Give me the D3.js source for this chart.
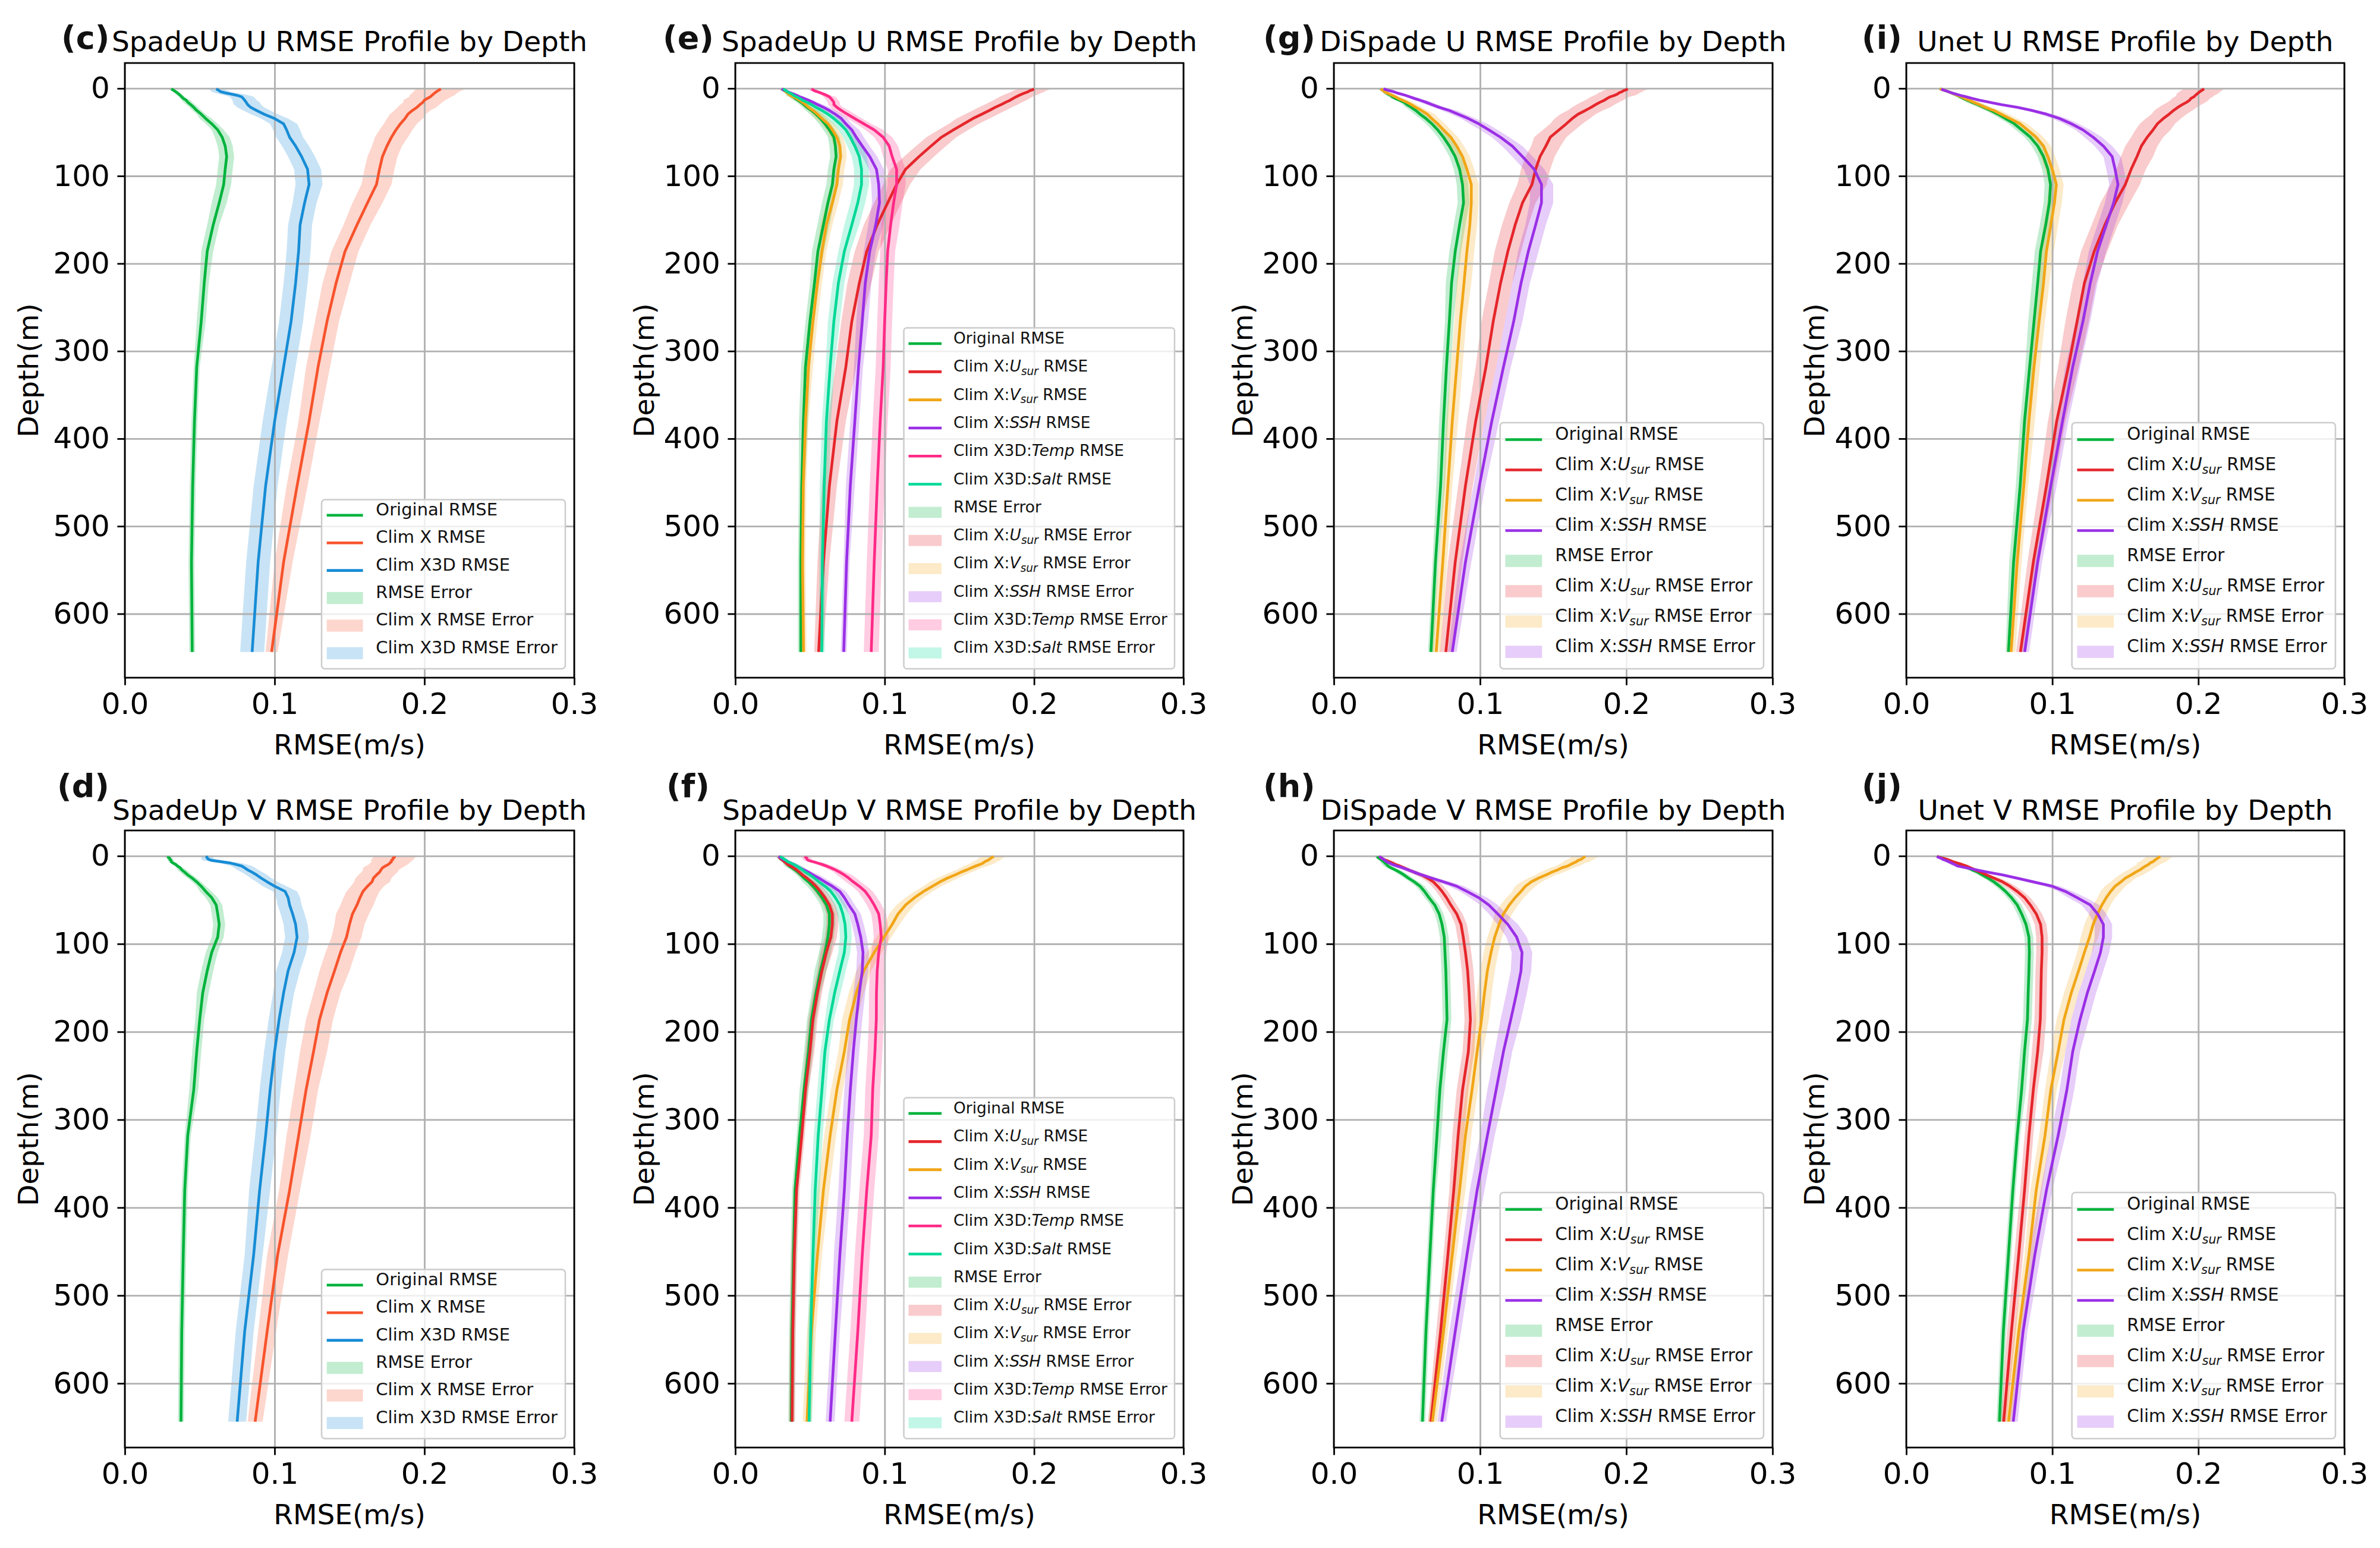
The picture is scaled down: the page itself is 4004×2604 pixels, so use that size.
<!DOCTYPE html>
<html>
<head>
<meta charset="utf-8">
<script src="https://cdn.jsdelivr.net/npm/d3@7"></script>
<style>
  html, body { margin: 0; padding: 0; background: #fff; }
  svg { display: block; }
  text { font-family: "DejaVu Sans", sans-serif; white-space: pre; }
</style>
</head>
<body>
<svg id="chart" width="4004" height="2604"></svg>
<script>
// ── DATA ─────────────────────────────────────────────────────
// model depth levels (m)
const depth = [
  0.494, 1.541, 2.646, 3.819, 5.078, 6.441, 7.930, 9.573, 11.405, 13.467, 15.810,
  18.496, 21.599, 25.211, 29.445, 34.434, 40.344, 47.374, 55.764, 65.807, 77.854, 92.326,
  109.729, 130.666, 155.851, 186.126, 222.475, 266.040, 318.127, 380.213, 453.938, 541.089, 643.567
]
const xLimits = [0, 0.3]
const yLimits = [-29, 673]
const xTicks = [0, 0.1, 0.2, 0.3]
const yTicks = [0, 100, 200, 300, 400, 500, 600]

// (c) SpadeUp U
const cOrig = [0.031,0.032,0.033,0.034,0.035,0.036,0.037,0.038,0.039,0.041,0.042, 0.044,0.046,0.048,0.051,0.054,0.058,0.062,0.065,0.067,0.068,0.067, 0.066,0.063,0.059,0.055,0.053,0.051,0.048,0.0465,0.0453,0.0445,0.045]
const cClimX = [0.211,0.210,0.209,0.208,0.207,0.206,0.205,0.204,0.202,0.200,0.199, 0.197,0.195,0.192,0.189,0.187,0.184,0.181,0.178,0.175,0.172,0.170, 0.168,0.162,0.155,0.147,0.141,0.135,0.129,0.123,0.115,0.106,0.098]
const cClimX3D = [0.061,0.062,0.063,0.064,0.067,0.071,0.075,0.078,0.079,0.080,0.081, 0.082,0.084,0.088,0.093,0.100,0.106,0.108,0.110,0.114,0.118,0.122, 0.123,0.120,0.117,0.116,0.114,0.111,0.106,0.100,0.094,0.089,0.085]
const cOrigErr = [0.002,0.002,0.002,0.002,0.002,0.002,0.002,0.002,0.002,0.003,0.003, 0.003,0.003,0.003,0.003,0.004,0.004,0.004,0.005,0.005,0.005,0.005, 0.005,0.005,0.004,0.004,0.003,0.003,0.002,0.002,0.002,0.002,0.002]
const cClimXErr = [0.016,0.016,0.016,0.015,0.015,0.015,0.015,0.014,0.014,0.014,0.013, 0.013,0.013,0.012,0.012,0.012,0.011,0.011,0.011,0.010,0.010,0.010, 0.010,0.010,0.009,0.009,0.009,0.008,0.008,0.007,0.007,0.006,0.004]
const cClimX3DErr = [0.005,0.005,0.006,0.006,0.007,0.008,0.008,0.008,0.008,0.008,0.009, 0.009,0.009,0.009,0.009,0.009,0.009,0.009,0.009,0.009,0.009,0.009, 0.009,0.008,0.008,0.008,0.008,0.008,0.008,0.008,0.008,0.008,0.008]

// (d) SpadeUp V
const dOrig = [0.029,0.029,0.030,0.030,0.031,0.031,0.032,0.034,0.035,0.037,0.038, 0.040,0.042,0.045,0.048,0.051,0.054,0.058,0.061,0.062,0.063,0.062, 0.058,0.055,0.052,0.050,0.048,0.046,0.042,0.040,0.039,0.038,0.0375]
const dClimX = [0.180,0.180,0.179,0.179,0.178,0.178,0.177,0.176,0.174,0.172,0.171, 0.170,0.168,0.166,0.165,0.162,0.159,0.157,0.155,0.152,0.150,0.148, 0.144,0.140,0.135,0.130,0.126,0.121,0.116,0.110,0.102,0.095,0.087]
const dClimX3D = [0.054,0.055,0.055,0.056,0.058,0.064,0.070,0.074,0.078,0.080,0.082, 0.085,0.088,0.091,0.095,0.100,0.107,0.109,0.110,0.112,0.114,0.115, 0.113,0.109,0.106,0.103,0.100,0.097,0.094,0.090,0.086,0.080,0.075]
const dOrigErr = [0.002,0.002,0.002,0.002,0.002,0.002,0.002,0.002,0.002,0.002,0.003, 0.003,0.003,0.003,0.003,0.003,0.004,0.004,0.004,0.004,0.004,0.004, 0.004,0.004,0.004,0.003,0.003,0.003,0.002,0.002,0.002,0.002,0.002]
const dClimXErr = [0.014,0.014,0.014,0.014,0.014,0.013,0.013,0.013,0.013,0.013,0.012, 0.012,0.012,0.012,0.012,0.011,0.011,0.011,0.011,0.011,0.010,0.010, 0.010,0.010,0.009,0.009,0.009,0.008,0.008,0.007,0.007,0.006,0.005]
const dClimX3DErr = [0.004,0.004,0.004,0.005,0.006,0.006,0.007,0.007,0.007,0.007,0.007, 0.007,0.007,0.007,0.007,0.008,0.008,0.008,0.008,0.008,0.008,0.008, 0.008,0.008,0.007,0.007,0.007,0.007,0.007,0.007,0.006,0.006,0.006]

// (e) SpadeUp U, per input variable
const eOrig = [0.031,0.032,0.033,0.034,0.035,0.036,0.037,0.039,0.040,0.042,0.044, 0.046,0.048,0.051,0.054,0.057,0.060,0.063,0.066,0.067,0.0675,0.066, 0.065,0.062,0.059,0.0553,0.053,0.050,0.047,0.0456,0.0445,0.0439,0.0439]
const eU = [0.200,0.199,0.197,0.196,0.194,0.192,0.190,0.188,0.186,0.184,0.181, 0.178,0.174,0.170,0.165,0.159,0.153,0.146,0.138,0.131,0.123,0.114, 0.108,0.102,0.095,0.088,0.083,0.078,0.074,0.068,0.063,0.059,0.0558]
const eV = [0.031,0.032,0.033,0.034,0.035,0.036,0.037,0.039,0.041,0.043,0.045, 0.047,0.049,0.052,0.055,0.058,0.062,0.065,0.068,0.070,0.0705,0.069, 0.068,0.065,0.061,0.058,0.055,0.052,0.049,0.047,0.0455,0.045,0.0457]
const eSsh = [0.031,0.032,0.034,0.035,0.037,0.039,0.041,0.043,0.046,0.049,0.052, 0.055,0.059,0.063,0.067,0.071,0.074,0.078,0.081,0.085,0.090,0.0945, 0.096,0.0965,0.094,0.090,0.087,0.085,0.0825,0.080,0.077,0.0745,0.0726]
const eTemp = [0.051,0.052,0.053,0.055,0.057,0.059,0.061,0.063,0.064,0.065,0.066, 0.066,0.068,0.071,0.075,0.080,0.086,0.093,0.099,0.103,0.105,0.108, 0.108,0.106,0.104,0.102,0.101,0.100,0.099,0.097,0.095,0.093,0.091]
const eSalt = [0.032,0.033,0.034,0.035,0.036,0.038,0.039,0.041,0.043,0.045,0.048, 0.051,0.054,0.058,0.062,0.066,0.070,0.074,0.077,0.080,0.083,0.0845, 0.0845,0.082,0.078,0.073,0.069,0.066,0.0635,0.061,0.0595,0.0583,0.0579]
const eOrigErr = [0.002,0.002,0.002,0.002,0.002,0.002,0.003,0.003,0.003,0.003,0.003, 0.003,0.003,0.004,0.004,0.004,0.004,0.004,0.004,0.004,0.004,0.004, 0.004,0.004,0.004,0.004,0.003,0.003,0.003,0.003,0.002,0.002,0.002]
const eUErr = [0.011,0.011,0.011,0.011,0.011,0.011,0.011,0.011,0.011,0.011,0.011, 0.011,0.011,0.011,0.011,0.011,0.010,0.010,0.010,0.010,0.010,0.010, 0.009,0.009,0.009,0.008,0.008,0.007,0.007,0.006,0.005,0.004,0.003]
const eVErr = [0.002,0.002,0.002,0.002,0.002,0.002,0.003,0.003,0.003,0.003,0.003, 0.003,0.003,0.003,0.004,0.004,0.004,0.004,0.004,0.004,0.004,0.004, 0.004,0.004,0.004,0.003,0.003,0.003,0.003,0.002,0.002,0.002,0.002]
const eSshErr = [0.002,0.002,0.002,0.002,0.002,0.003,0.003,0.003,0.003,0.003,0.003, 0.004,0.004,0.004,0.004,0.004,0.004,0.005,0.005,0.005,0.005,0.005, 0.005,0.005,0.005,0.004,0.004,0.004,0.003,0.003,0.003,0.002,0.002]
const eTempErr = [0.003,0.003,0.003,0.003,0.003,0.003,0.003,0.004,0.004,0.004,0.004, 0.004,0.004,0.005,0.005,0.005,0.005,0.006,0.006,0.006,0.006,0.006, 0.006,0.006,0.006,0.005,0.005,0.005,0.005,0.005,0.005,0.005,0.005]
const eSaltErr = [0.002,0.002,0.002,0.002,0.002,0.003,0.003,0.003,0.003,0.003,0.003, 0.004,0.004,0.004,0.004,0.005,0.005,0.005,0.005,0.005,0.005,0.005, 0.005,0.005,0.005,0.004,0.004,0.004,0.003,0.003,0.003,0.002,0.002]

// (f) SpadeUp V, per input variable
const fOrig = [0.029,0.030,0.030,0.031,0.032,0.033,0.034,0.035,0.036,0.038,0.040, 0.042,0.044,0.046,0.049,0.052,0.055,0.058,0.061,0.063,0.063,0.062, 0.060,0.057,0.054,0.051,0.049,0.046,0.043,0.040,0.039,0.038,0.0375]
const fU = [0.029,0.030,0.030,0.031,0.032,0.033,0.034,0.035,0.037,0.039,0.041, 0.043,0.045,0.048,0.051,0.054,0.057,0.060,0.063,0.065,0.065,0.064, 0.061,0.058,0.055,0.052,0.050,0.047,0.0445,0.041,0.0395,0.0385,0.038]
const fV = [0.173,0.172,0.171,0.170,0.169,0.167,0.166,0.164,0.161,0.158,0.155, 0.151,0.147,0.142,0.137,0.132,0.126,0.120,0.114,0.109,0.105,0.0995, 0.093,0.086,0.081,0.0765,0.073,0.068,0.0635,0.059,0.055,0.051,0.048]
const fSsh = [0.029,0.030,0.031,0.032,0.034,0.035,0.037,0.039,0.041,0.043,0.046, 0.049,0.052,0.056,0.060,0.065,0.070,0.073,0.076,0.080,0.082,0.084, 0.0855,0.085,0.083,0.081,0.079,0.077,0.075,0.073,0.070,0.067,0.0635]
const fTemp = [0.047,0.047,0.048,0.048,0.049,0.052,0.055,0.058,0.061,0.064,0.067, 0.070,0.073,0.076,0.079,0.083,0.087,0.090,0.093,0.096,0.097,0.0977, 0.096,0.095,0.0945,0.0944,0.0935,0.092,0.091,0.088,0.085,0.082,0.078]
const fSalt = [0.030,0.031,0.032,0.033,0.034,0.035,0.037,0.039,0.041,0.043,0.045, 0.047,0.050,0.053,0.056,0.060,0.064,0.067,0.070,0.072,0.0735,0.074, 0.073,0.070,0.0665,0.063,0.060,0.058,0.0555,0.0535,0.052,0.0505,0.0494]
const fOrigErr = [0.002,0.002,0.002,0.002,0.002,0.002,0.002,0.003,0.003,0.003,0.003, 0.003,0.003,0.003,0.004,0.004,0.004,0.004,0.004,0.004,0.004,0.004, 0.004,0.004,0.003,0.003,0.003,0.003,0.002,0.002,0.002,0.002,0.002]
const fUErr = [0.002,0.002,0.002,0.002,0.002,0.002,0.002,0.002,0.003,0.003,0.003, 0.003,0.003,0.003,0.003,0.004,0.004,0.004,0.004,0.004,0.004,0.004, 0.004,0.003,0.003,0.003,0.003,0.002,0.002,0.002,0.002,0.002,0.002]
const fVErr = [0.008,0.008,0.008,0.008,0.008,0.008,0.008,0.008,0.008,0.007,0.007, 0.007,0.007,0.007,0.007,0.006,0.006,0.006,0.006,0.006,0.005,0.005, 0.005,0.005,0.005,0.005,0.004,0.004,0.004,0.004,0.003,0.003,0.003]
const fSshErr = [0.002,0.002,0.002,0.002,0.002,0.003,0.003,0.003,0.003,0.003,0.003, 0.003,0.004,0.004,0.004,0.004,0.004,0.004,0.004,0.004,0.004,0.004, 0.004,0.004,0.004,0.004,0.004,0.004,0.004,0.004,0.004,0.003,0.003]
const fTempErr = [0.003,0.003,0.003,0.003,0.003,0.003,0.004,0.004,0.004,0.004,0.004, 0.004,0.005,0.005,0.005,0.005,0.005,0.005,0.005,0.005,0.005,0.005, 0.005,0.005,0.005,0.005,0.005,0.005,0.005,0.005,0.005,0.005,0.005]
const fSaltErr = [0.002,0.002,0.002,0.002,0.002,0.002,0.003,0.003,0.003,0.003,0.003, 0.003,0.003,0.004,0.004,0.004,0.004,0.004,0.004,0.004,0.004,0.004, 0.004,0.004,0.004,0.003,0.003,0.003,0.003,0.003,0.002,0.002,0.002]

// (g) DiSpade U
const gOrig = [0.032,0.033,0.034,0.035,0.036,0.037,0.039,0.040,0.042,0.045,0.048, 0.050,0.053,0.056,0.059,0.063,0.067,0.071,0.075,0.079,0.083,0.086, 0.088,0.0887,0.086,0.083,0.0805,0.079,0.077,0.075,0.073,0.0695,0.0664]
const gU = [0.201,0.200,0.198,0.197,0.195,0.194,0.192,0.189,0.187,0.185,0.182, 0.179,0.176,0.172,0.167,0.163,0.159,0.154,0.148,0.145,0.141,0.138, 0.1355,0.129,0.124,0.119,0.114,0.109,0.104,0.097,0.090,0.083,0.0766]
const gV = [0.032,0.033,0.034,0.035,0.036,0.038,0.040,0.042,0.044,0.047,0.050, 0.053,0.056,0.060,0.064,0.067,0.071,0.075,0.080,0.084,0.088,0.091, 0.094,0.094,0.093,0.091,0.089,0.0865,0.084,0.081,0.078,0.0745,0.070]
const gSsh = [0.034,0.036,0.038,0.041,0.043,0.046,0.049,0.052,0.055,0.059,0.063, 0.067,0.072,0.079,0.085,0.092,0.099,0.106,0.114,0.122,0.129,0.137, 0.142,0.142,0.138,0.133,0.128,0.123,0.116,0.108,0.0995,0.090,0.081]
const gOrigErr = [0.002,0.002,0.002,0.002,0.002,0.003,0.003,0.003,0.003,0.003,0.003, 0.003,0.004,0.004,0.004,0.004,0.004,0.004,0.004,0.004,0.004,0.004, 0.004,0.004,0.004,0.004,0.004,0.003,0.003,0.003,0.003,0.002,0.002]
const gUErr = [0.014,0.014,0.014,0.014,0.014,0.014,0.014,0.013,0.013,0.013,0.013, 0.013,0.013,0.012,0.012,0.012,0.011,0.011,0.011,0.010,0.010,0.010, 0.010,0.009,0.009,0.009,0.008,0.008,0.007,0.006,0.005,0.005,0.004]
const gVErr = [0.002,0.002,0.002,0.002,0.003,0.003,0.003,0.003,0.003,0.004,0.004, 0.004,0.004,0.004,0.005,0.005,0.005,0.005,0.005,0.005,0.005,0.005, 0.005,0.005,0.005,0.005,0.005,0.004,0.004,0.004,0.003,0.003,0.003]
const gSshErr = [0.002,0.002,0.002,0.002,0.003,0.003,0.003,0.003,0.003,0.004,0.004, 0.004,0.004,0.005,0.005,0.005,0.006,0.006,0.006,0.007,0.007,0.007, 0.008,0.008,0.007,0.007,0.006,0.006,0.005,0.005,0.004,0.004,0.003]

// (h) DiSpade V
const hOrig = [0.030,0.030,0.031,0.032,0.033,0.034,0.035,0.036,0.037,0.039,0.042, 0.045,0.048,0.051,0.055,0.059,0.062,0.065,0.069,0.072,0.074,0.0755, 0.076,0.0766,0.077,0.0774,0.075,0.0725,0.0705,0.068,0.0657,0.063,0.0606]
const hU = [0.031,0.032,0.033,0.034,0.036,0.038,0.040,0.042,0.045,0.048,0.051, 0.055,0.060,0.064,0.068,0.071,0.074,0.077,0.080,0.084,0.087,0.0885, 0.090,0.0915,0.0925,0.0934,0.092,0.088,0.085,0.082,0.078,0.073,0.0664]
const hV = [0.172,0.171,0.170,0.169,0.167,0.166,0.164,0.162,0.160,0.156,0.153, 0.149,0.145,0.140,0.135,0.131,0.128,0.124,0.120,0.116,0.113,0.110, 0.1075,0.105,0.103,0.101,0.098,0.0945,0.090,0.086,0.081,0.075,0.0674]
const hSsh = [0.031,0.032,0.033,0.034,0.035,0.036,0.038,0.040,0.043,0.047,0.051, 0.055,0.060,0.067,0.075,0.084,0.091,0.099,0.106,0.112,0.119,0.125, 0.1287,0.128,0.125,0.121,0.116,0.111,0.105,0.098,0.091,0.083,0.0738]
const hOrigErr = [0.002,0.002,0.002,0.002,0.002,0.002,0.003,0.003,0.003,0.003,0.003, 0.003,0.003,0.003,0.003,0.003,0.003,0.003,0.003,0.003,0.003,0.003, 0.003,0.003,0.003,0.003,0.003,0.003,0.003,0.002,0.002,0.002,0.002]
const hUErr = [0.002,0.002,0.002,0.002,0.002,0.003,0.003,0.003,0.003,0.003,0.003, 0.003,0.004,0.004,0.004,0.004,0.004,0.004,0.004,0.004,0.004,0.004, 0.004,0.004,0.004,0.004,0.004,0.004,0.004,0.003,0.003,0.003,0.002]
const hVErr = [0.009,0.009,0.009,0.009,0.009,0.009,0.008,0.008,0.008,0.008,0.008, 0.008,0.007,0.007,0.007,0.007,0.006,0.006,0.006,0.006,0.005,0.005, 0.005,0.005,0.005,0.005,0.004,0.004,0.004,0.004,0.003,0.003,0.003]
const hSshErr = [0.002,0.002,0.002,0.002,0.002,0.003,0.003,0.003,0.003,0.003,0.004, 0.004,0.004,0.004,0.005,0.005,0.005,0.006,0.006,0.006,0.007,0.007, 0.007,0.007,0.007,0.007,0.006,0.006,0.005,0.005,0.004,0.004,0.003]

// (i) Unet U
const iOrig = [0.023,0.025,0.027,0.029,0.031,0.033,0.035,0.037,0.039,0.042,0.045, 0.049,0.053,0.058,0.063,0.068,0.074,0.079,0.085,0.090,0.094,0.097, 0.0988,0.098,0.0955,0.092,0.090,0.0875,0.0845,0.081,0.078,0.0735,0.070]
const iU = [0.204,0.203,0.202,0.201,0.200,0.199,0.198,0.197,0.195,0.194,0.192, 0.189,0.186,0.183,0.180,0.176,0.172,0.169,0.165,0.161,0.158,0.154, 0.150,0.143,0.136,0.1287,0.122,0.117,0.111,0.103,0.096,0.087,0.0782]
const iV = [0.023,0.025,0.027,0.029,0.031,0.033,0.035,0.038,0.040,0.043,0.046, 0.050,0.054,0.060,0.065,0.071,0.078,0.083,0.089,0.094,0.097,0.100, 0.1028,0.1015,0.099,0.096,0.094,0.091,0.0875,0.084,0.0805,0.076,0.0718]
const iSsh = [0.024,0.025,0.027,0.029,0.031,0.034,0.037,0.041,0.045,0.050,0.057, 0.065,0.076,0.086,0.096,0.105,0.113,0.121,0.128,0.135,0.141,0.143, 0.145,0.142,0.137,0.131,0.126,0.121,0.114,0.107,0.099,0.090,0.0811]
const iOrigErr = [0.002,0.002,0.002,0.002,0.002,0.003,0.003,0.003,0.003,0.003,0.004, 0.004,0.004,0.004,0.004,0.004,0.004,0.004,0.004,0.004,0.004,0.004, 0.004,0.004,0.004,0.004,0.004,0.004,0.003,0.003,0.003,0.003,0.002]
const iUErr = [0.014,0.014,0.014,0.014,0.014,0.014,0.013,0.013,0.013,0.013,0.013, 0.013,0.013,0.013,0.012,0.012,0.012,0.012,0.011,0.011,0.011,0.010, 0.010,0.010,0.009,0.009,0.008,0.008,0.007,0.006,0.005,0.004,0.003]
const iVErr = [0.002,0.002,0.002,0.002,0.003,0.003,0.003,0.003,0.003,0.004,0.004, 0.004,0.004,0.005,0.005,0.005,0.005,0.005,0.005,0.005,0.005,0.005, 0.005,0.005,0.005,0.005,0.004,0.004,0.004,0.004,0.003,0.003,0.003]
const iSshErr = [0.002,0.002,0.002,0.002,0.002,0.003,0.003,0.003,0.003,0.003,0.004, 0.004,0.004,0.004,0.005,0.005,0.005,0.005,0.006,0.006,0.006,0.006, 0.006,0.006,0.006,0.006,0.005,0.005,0.005,0.004,0.004,0.003,0.003]

// (j) Unet V
const jOrig = [0.021,0.023,0.025,0.027,0.029,0.031,0.033,0.036,0.039,0.042,0.045, 0.049,0.052,0.056,0.060,0.064,0.068,0.072,0.076,0.079,0.082,0.084, 0.0843,0.084,0.0835,0.083,0.081,0.079,0.076,0.073,0.070,0.0665,0.0638]
const jU = [0.021,0.023,0.025,0.028,0.030,0.032,0.035,0.038,0.041,0.044,0.047, 0.051,0.055,0.060,0.066,0.071,0.076,0.081,0.085,0.089,0.092,0.093, 0.093,0.0925,0.0922,0.0918,0.090,0.087,0.084,0.081,0.077,0.072,0.0667]
const jV = [0.174,0.173,0.172,0.171,0.170,0.169,0.167,0.166,0.164,0.162,0.160, 0.157,0.154,0.150,0.147,0.143,0.140,0.137,0.134,0.131,0.128,0.1255, 0.122,0.118,0.113,0.108,0.104,0.099,0.095,0.089,0.084,0.077,0.070]
const jSsh = [0.021,0.022,0.024,0.025,0.027,0.029,0.031,0.033,0.035,0.041,0.048, 0.056,0.066,0.076,0.087,0.100,0.109,0.117,0.126,0.131,0.135,0.135, 0.133,0.129,0.124,0.119,0.114,0.110,0.104,0.096,0.088,0.080,0.0733]
const jOrigErr = [0.002,0.002,0.002,0.002,0.002,0.002,0.003,0.003,0.003,0.003,0.003, 0.003,0.003,0.003,0.003,0.003,0.003,0.003,0.003,0.003,0.003,0.003, 0.003,0.003,0.003,0.003,0.003,0.003,0.002,0.002,0.002,0.002,0.002]
const jUErr = [0.002,0.002,0.002,0.002,0.002,0.002,0.003,0.003,0.003,0.003,0.003, 0.003,0.003,0.004,0.004,0.004,0.004,0.004,0.004,0.004,0.004,0.004, 0.004,0.004,0.004,0.004,0.004,0.003,0.003,0.003,0.003,0.003,0.002]
const jVErr = [0.009,0.009,0.009,0.009,0.009,0.009,0.009,0.008,0.008,0.008,0.008, 0.008,0.008,0.007,0.007,0.007,0.007,0.006,0.006,0.006,0.006,0.006, 0.005,0.005,0.005,0.005,0.005,0.004,0.004,0.004,0.003,0.003,0.003]
const jSshErr = [0.002,0.002,0.002,0.002,0.002,0.002,0.003,0.003,0.003,0.003,0.004, 0.004,0.004,0.005,0.005,0.005,0.005,0.006,0.006,0.006,0.006,0.006, 0.006,0.006,0.006,0.006,0.005,0.005,0.005,0.004,0.004,0.003,0.003]

// ── STYLE ────────────────────────────────────────────────────
const COLORS = {
  orig: '#00b33c', climX: '#f7532c', climX3D: '#178cd5',
  u: '#e5262b', v: '#f1a617', ssh: '#9a2fe6', temp: '#ff2a86', salt: '#00d897'
}
const LABELS = {
  orig: 'Original RMSE', climX: 'Clim X RMSE', climX3D: 'Clim X3D RMSE',
  u: 'Clim X:$U_{sur}$ RMSE', v: 'Clim X:$V_{sur}$ RMSE', ssh: 'Clim X:$SSH$ RMSE',
  temp: 'Clim X3D:$Temp$ RMSE', salt: 'Clim X3D:$Salt$ RMSE'
}
const BAND_ALPHA = 0.24

const colX = [[210, 966], [1237, 1991], [2244, 2982], [3207, 3944]]
const rowY = [[106, 1140], [1397, 2435]]
const titleY = [86, 1379]
const tagY = [82, 1341]
const tagX = [[103, 1115, 2125, 3132], [96, 1121, 2125, 3132]]
const ylabelOffset = [146, 137, 137, 138]
const legendFont = [29, 26.5, 29.4, 29.4]
const legendRowH = [46.4, 47.3, 51, 51]

const panels = [
  { tag: '(c)', title: 'SpadeUp U RMSE Profile by Depth', col: 0, row: 0,
    keys: ['orig', 'climX', 'climX3D'], vals: [cOrig, cClimX, cClimX3D], errs: [cOrigErr, cClimXErr, cClimX3DErr] },
  { tag: '(d)', title: 'SpadeUp V RMSE Profile by Depth', col: 0, row: 1,
    keys: ['orig', 'climX', 'climX3D'], vals: [dOrig, dClimX, dClimX3D], errs: [dOrigErr, dClimXErr, dClimX3DErr] },
  { tag: '(e)', title: 'SpadeUp U RMSE Profile by Depth', col: 1, row: 0,
    keys: ['orig', 'u', 'v', 'ssh', 'temp', 'salt'], vals: [eOrig, eU, eV, eSsh, eTemp, eSalt],
    errs: [eOrigErr, eUErr, eVErr, eSshErr, eTempErr, eSaltErr] },
  { tag: '(f)', title: 'SpadeUp V RMSE Profile by Depth', col: 1, row: 1,
    keys: ['orig', 'u', 'v', 'ssh', 'temp', 'salt'], vals: [fOrig, fU, fV, fSsh, fTemp, fSalt],
    errs: [fOrigErr, fUErr, fVErr, fSshErr, fTempErr, fSaltErr] },
  { tag: '(g)', title: 'DiSpade U RMSE Profile by Depth', col: 2, row: 0,
    keys: ['orig', 'u', 'v', 'ssh'], vals: [gOrig, gU, gV, gSsh], errs: [gOrigErr, gUErr, gVErr, gSshErr] },
  { tag: '(h)', title: 'DiSpade V RMSE Profile by Depth', col: 2, row: 1,
    keys: ['orig', 'u', 'v', 'ssh'], vals: [hOrig, hU, hV, hSsh], errs: [hOrigErr, hUErr, hVErr, hSshErr] },
  { tag: '(i)', title: 'Unet U RMSE Profile by Depth', col: 3, row: 0,
    keys: ['orig', 'u', 'v', 'ssh'], vals: [iOrig, iU, iV, iSsh], errs: [iOrigErr, iUErr, iVErr, iSshErr] },
  { tag: '(j)', title: 'Unet V RMSE Profile by Depth', col: 3, row: 1,
    keys: ['orig', 'u', 'v', 'ssh'], vals: [jOrig, jU, jV, jSsh], errs: [jOrigErr, jUErr, jVErr, jSshErr] }
]

const svg = d3.select('#chart')

// matplotlib-like label with $...$ math parts (italic, _{sub})
function writeLabel (textSel, label, fs) {
  let pendingDy = 0
  label.split('$').forEach((part, i) => {
    if (!part) return
    if (i % 2 === 0) {
      textSel.append('tspan').attr('dy', pendingDy).text(part)
      pendingDy = 0
      return
    }
    const m = part.match(/^([^_]*)(?:_\{(.*)\})?$/)
    textSel.append('tspan').attr('font-style', 'italic').attr('dy', pendingDy).text(m[1])
    pendingDy = 0
    if (m[2]) {
      textSel.append('tspan')
        .attr('font-style', 'italic')
        .attr('font-size', fs * 0.7)
        .attr('dy', fs * 0.22)
        .text(m[2])
      pendingDy = -fs * 0.22
    }
  })
}

function drawPanel (p) {
  const [x0, x1] = colX[p.col]
  const [y0, y1] = rowY[p.row]
  const x = d3.scaleLinear().domain(xLimits).range([x0, x1])
  const y = d3.scaleLinear().domain(yLimits).range([y0, y1])
  const g = svg.append('g')

  const series = p.keys.map((k, i) => ({
    key: k,
    color: COLORS[k],
    pts: p.vals[i].map((v, j) => ({ d: depth[j], v, e: p.errs[i][j] }))
  }))

  // ── BANDS ──
  const area = d3.area()
    .y(d => y(d.d))
    .x0(d => x(d.v - d.e))
    .x1(d => x(d.v + d.e))
  g.append('g').selectAll('path')
    .data(series)
    .join('path')
    .attr('d', s => area(s.pts))
    .attr('fill', s => s.color)
    .attr('fill-opacity', BAND_ALPHA)

  // ── GRID ──
  g.append('g')
    .attr('transform', `translate(0,${y1})`)
    .call(d3.axisBottom(x).tickValues(xTicks).tickSize(-(y1 - y0)).tickFormat(''))
    .call(a => a.select('.domain').remove())
    .call(a => a.selectAll('line').attr('stroke', '#b0b0b0').attr('stroke-width', 2.8))
  g.append('g')
    .attr('transform', `translate(${x0},0)`)
    .call(d3.axisLeft(y).tickValues(yTicks).tickSize(-(x1 - x0)).tickFormat(''))
    .call(a => a.select('.domain').remove())
    .call(a => a.selectAll('line').attr('stroke', '#b0b0b0').attr('stroke-width', 2.8))

  // ── LINES ──
  const line = d3.line().x(d => x(d.v)).y(d => y(d.d))
  g.append('g').selectAll('path')
    .data(series)
    .join('path')
    .attr('d', s => line(s.pts))
    .attr('fill', 'none')
    .attr('stroke', s => s.color)
    .attr('stroke-width', 4.6)
    .attr('stroke-linejoin', 'round')

  // ── AXES ──
  g.append('g')
    .attr('transform', `translate(0,${y1})`)
    .call(d3.axisBottom(x).tickValues(xTicks).tickFormat(d3.format('.1f')).tickSize(12.6).tickPadding(12.6))
    .call(a => a.select('.domain').remove())
    .call(a => a.selectAll('line').attr('stroke', '#000').attr('stroke-width', 2.8))
    .call(a => a.selectAll('text').attr('font-size', 50).attr('font-family', 'DejaVu Sans').attr('fill', '#000'))
  g.append('g')
    .attr('transform', `translate(${x0},0)`)
    .call(d3.axisLeft(y).tickValues(yTicks).tickSize(12.6).tickPadding(12.6))
    .call(a => a.select('.domain').remove())
    .call(a => a.selectAll('line').attr('stroke', '#000').attr('stroke-width', 2.8))
    .call(a => a.selectAll('text').attr('font-size', 50).attr('font-family', 'DejaVu Sans').attr('fill', '#000'))

  g.append('rect')
    .attr('x', x0).attr('y', y0)
    .attr('width', x1 - x0).attr('height', y1 - y0)
    .attr('fill', 'none').attr('stroke', '#000').attr('stroke-width', 2.8)

  // ── TEXTS ──
  g.append('text')
    .attr('x', (x0 + x1) / 2).attr('y', titleY[p.row])
    .attr('text-anchor', 'middle').attr('font-size', 47)
    .text(p.title)
  g.append('text')
    .attr('x', tagX[p.row][p.col]).attr('y', tagY[p.row])
    .attr('font-family', 'Liberation Sans, Arial, sans-serif')
    .attr('font-weight', 'bold').attr('font-size', 54).attr('fill', '#111')
    .text(p.tag)
  g.append('text')
    .attr('x', (x0 + x1) / 2).attr('y', y1 + 129)
    .attr('text-anchor', 'middle').attr('font-size', 47)
    .text('RMSE(m/s)')
  g.append('text')
    .attr('transform', `translate(${x0 - ylabelOffset[p.col]},${(y0 + y1) / 2}) rotate(-90)`)
    .attr('text-anchor', 'middle').attr('font-size', 47)
    .text('Depth(m)')

  drawLegend(g, p, series, x1, y1)
}

function drawLegend (g, p, series, right, bottom) {
  const fs = legendFont[p.col]
  const rowH = legendRowH[p.col]
  const padL = 0.3 * fs
  const handleLen = 2.1 * fs
  const gap = 0.75 * fs
  const padR = 0.45 * fs

  const items = [
    ...series.map(s => ({ kind: 'line', color: s.color, label: LABELS[s.key] })),
    ...series.map(s => ({
      kind: 'patch',
      color: s.color,
      label: s.key === 'orig' ? 'RMSE Error' : LABELS[s.key] + ' Error'
    }))
  ]

  const lg = g.append('g')
  const box = lg.append('rect')
  const rows = lg.selectAll('g.legend-row')
    .data(items)
    .join('g')
    .attr('class', 'legend-row')

  rows.each(function (d) {
    const r = d3.select(this)
    if (d.kind === 'line') {
      r.append('line')
        .attr('x1', 0).attr('x2', handleLen)
        .attr('stroke', d.color).attr('stroke-width', 4.6)
    } else {
      r.append('rect')
        .attr('x', 0).attr('y', -0.35 * fs)
        .attr('width', handleLen).attr('height', 0.7 * fs)
        .attr('fill', d.color).attr('fill-opacity', BAND_ALPHA)
    }
    const t = r.append('text')
      .attr('x', handleLen + gap)
      .attr('dy', '0.36em')
      .attr('font-size', fs)
      .attr('fill', '#111')
    writeLabel(t, d.label, fs)
  })

  const maxW = d3.max(rows.nodes(), n => d3.select(n).select('text').node().getBBox().width)
  const W = padL + handleLen + gap + maxW + padR
  const H = items.length * rowH + 6
  const bx = right - 15 - W
  const by = bottom - 15 - H

  box.attr('x', bx).attr('y', by)
    .attr('width', W).attr('height', H)
    .attr('rx', 0.2 * fs)
    .attr('fill', '#fff').attr('fill-opacity', 0.8)
    .attr('stroke', '#cccccc').attr('stroke-width', 2.5)

  rows.attr('transform', (d, i) => `translate(${bx + padL},${by + 3 + rowH * (i + 0.5)})`)
}

panels.forEach(drawPanel)
</script>
</body>
</html>
